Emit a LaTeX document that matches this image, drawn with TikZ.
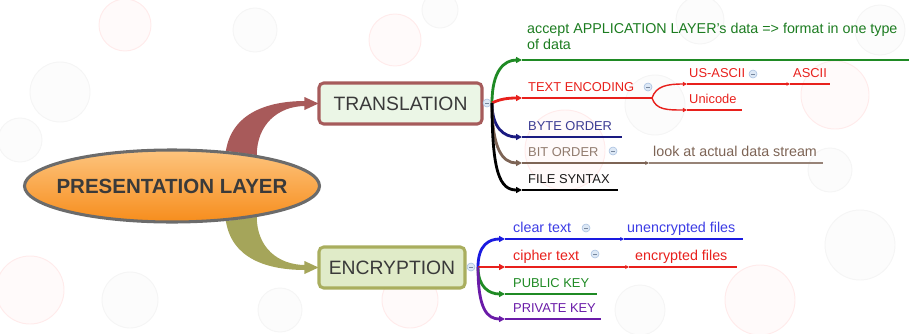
\documentclass[tikz,border=0pt]{standalone}
\usepackage{fontspec}
\setmainfont{Liberation Sans}
\usetikzlibrary{shapes.geometric, arrows.meta, calc, positioning, backgrounds}

\definecolor{eltop}{HTML}{FDC47E}
\definecolor{elbot}{HTML}{F78D1C}
\definecolor{elborder}{HTML}{6B6B6B}
\definecolor{txtdark}{HTML}{3A3A3A}
\definecolor{trborder}{HTML}{A65B5B}
\definecolor{trfill}{HTML}{EBF6E6}
\definecolor{enborder}{HTML}{A9AE5E}
\definecolor{enfill}{HTML}{E0EBC8}
\definecolor{uparc}{HTML}{A85A5A}
\definecolor{lowarc}{HTML}{A5A55A}
\definecolor{cgreen}{HTML}{1F8A24}
\definecolor{cred}{HTML}{E8201C}
\definecolor{cnavy}{HTML}{1A1A80}
\definecolor{cbrown}{HTML}{7D6455}
\definecolor{cblue}{HTML}{1A1AE0}
\definecolor{cpurple}{HTML}{6A1BA8}
\definecolor{colbd}{HTML}{A8C0E0}
\definecolor{colfl}{HTML}{DDE8F5}

\tikzset{
  branch/.style={line width=2.4pt, -{Triangle[length=5pt,width=5pt]}},
  subbranch/.style={line width=1.2pt, -{Triangle[length=3.5pt,width=3.5pt]}},
  uline/.style={line width=1pt},
  tipline/.style={uline, -{Triangle[length=3pt,width=3pt]}},
  lbl/.style={anchor=base west, inner sep=0pt, font=\fontsize{11}{13}\selectfont},
  lbllow/.style={lbl, font=\fontsize{12.2}{14}\selectfont},
  topic/.style={rectangle, rounded corners=4pt, line width=2.6pt, minimum height=1.23cm,
    font=\fontsize{16.5}{18}\selectfont, text=txtdark},
  collapse/.style={circle, draw=colbd, fill=colfl, line width=0.5pt, minimum size=0.24cm, inner sep=0pt,
    path picture={\draw[colbd!70!black, line width=0.6pt]
      ([xshift=-1.5pt]path picture bounding box.center) -- ([xshift=1.5pt]path picture bounding box.center);}},
}

\begin{document}
\begin{tikzpicture}[x=0.03cm, y=-0.03cm]
  \useasboundingbox (0,0) rectangle (909,333);

  % main topic and the two sub topics
  \node[ellipse, draw=elborder, line width=2.6pt, top color=eltop, bottom color=elbot,
    minimum width=8.85cm, minimum height=2.16cm, inner sep=0pt,
    font=\bfseries\fontsize{17.5}{20}\selectfont, text=txtdark] (layer) at (172,186)
    {\makebox[0pt]{PRESENTATION LAYER}};
  \node[topic, draw=trborder, fill=trfill, minimum width=4.89cm] (trans) at (400.5,103.5) {TRANSLATION};
  \node[topic, draw=enborder, fill=enfill, minimum width=4.38cm] (enc) at (392,267.5) {ENCRYPTION};

  % faint bubbles and the tapered arcs go underneath
  \begin{scope}[on background layer]
    \foreach \bx/\by/\br/\bc in {60/92/30/gray, 125/25/26/red, 20/140/22/gray, 255/30/22/gray,
        395/40/26/red, 440/10/18/gray, 565/150/40/red, 655/105/30/gray, 700/20/24/gray,
        835/95/34/red, 880/30/25/gray, 860/245/35/gray, 760/300/35/red, 640/310/25/gray,
        410/300/28/red, 30/290/34/red, 130/300/28/gray, 280/310/22/gray, 830/170/22/gray} {
      \draw[\bc!8, line width=0.8pt, fill=\bc!2] (\bx,\by) circle[radius=\br];
    }
    \fill[uparc] (layer.33) .. controls +(6,-38) and +(-38,0) .. ($(trans.west)+(-12,-2.5)$)
      -- ($(trans.west)+(-12,2.5)$) .. controls +(-28,0) and +(0,-30) .. (layer.20) -- cycle;
    \fill[uparc] ($(trans.west)+(-13,-6.5)$) -- ($(trans.west)+(1,0)$) -- ($(trans.west)+(-13,6.5)$) -- cycle;
    \fill[lowarc] (layer.-33) .. controls +(6,38) and +(-38,0) .. ($(enc.west)+(-12,2.5)$)
      -- ($(enc.west)+(-12,-2.5)$) .. controls +(-28,0) and +(0,30) .. (layer.-20) -- cycle;
    \fill[lowarc] ($(enc.west)+(-13,-6.5)$) -- ($(enc.west)+(1,0)$) -- ($(enc.west)+(-13,6.5)$) -- cycle;
  \end{scope}

  \node[collapse] (transc) at (487,103) {};
  \node[collapse] (encc) at (471,267) {};

  % TRANSLATION branches
  \coordinate (tfan) at (492,103);
  \coordinate (accept) at (522,60);
  \coordinate (textenc) at (522,98);
  \coordinate (byte) at (522,137);
  \coordinate (bit) at (522,163);
  \coordinate (file) at (522,190);

  \draw[branch, cgreen] (tfan) .. controls +(0,-32) and +(-18,0) .. (accept);
  \draw[branch, cred] (tfan) .. controls +(8,-4) and +(-14,0) .. (textenc);
  \draw[branch, cnavy] (tfan) .. controls +(0,25) and +(-18,0) .. (byte);
  \draw[branch, cbrown] (tfan) .. controls +(0,45) and +(-20,0) .. (bit);
  \draw[branch, black] (tfan) .. controls +(0,70) and +(-22,0) .. (file);

  \coordinate (acceptend) at (909,60);
  \coordinate (tefork) at (652,98);
  \coordinate (byteend) at (622,137);
  \coordinate (lookst) at (649,163);
  \coordinate (lookend) at (823,163);
  \coordinate (fileend) at (618,190);
  \draw[uline, cgreen] (accept) -- (acceptend);
  \draw[uline, cred] (textenc) -- (tefork);
  \draw[uline, cnavy] (byte) -- (byteend);
  \draw[tipline, cbrown] (bit) -- (lookst);
  \draw[uline, cbrown!80] (lookst) -- (lookend);
  \draw[uline, black] (file) -- (fileend);

  % TEXT ENCODING fork
  \coordinate (usascii) at (687,84);
  \coordinate (unicode) at (687,110);
  \coordinate (asciist) at (790,84);
  \coordinate (asciiend) at (830,84);
  \coordinate (unicodeend) at (742,110);
  \draw[subbranch, cred] (tefork) .. controls +(4,-12) and +(-20,0) .. (usascii);
  \draw[subbranch, cred] (tefork) .. controls +(4,12) and +(-20,0) .. (unicode);
  \draw[tipline, cred] (usascii) -- (asciist);
  \draw[uline, cred] (asciist) -- (asciiend);
  \draw[uline, cred] (unicode) -- (unicodeend);

  % ENCRYPTION branches
  \coordinate (efan) at (478,267);
  \coordinate (clear) at (505,239);
  \coordinate (cipher) at (505,267);
  \coordinate (public) at (505,294);
  \coordinate (private) at (505,319);
  \draw[branch, cblue] (efan) .. controls +(0,-22) and +(-16,0) .. (clear);
  \draw[branch, cred] (efan) -- (cipher);
  \draw[branch, cgreen] (efan) .. controls +(0,20) and +(-16,0) .. (public);
  \draw[branch, cpurple] (efan) .. controls +(0,42) and +(-18,0) .. (private);

  \coordinate (unencst) at (624,239);
  \coordinate (unencend) at (743,239);
  \coordinate (encst) at (629,267);
  \coordinate (encend) at (737,267);
  \coordinate (publicend) at (597,294);
  \coordinate (privateend) at (601,319);
  \draw[tipline, cblue] (clear) -- (unencst);
  \draw[uline, cblue] (unencst) -- (unencend);
  \draw[tipline, cred] (cipher) -- (encst);
  \draw[uline, cred] (encst) -- (encend);
  \draw[uline, cgreen] (public) -- (publicend);
  \draw[uline, cpurple] (private) -- (privateend);

  % labels
  \node[anchor=north west, inner sep=0pt, align=left, font=\fontsize{12.2}{13.2}\selectfont, text=cgreen!90!black]
    (lblaccept) at (527,23) {accept APPLICATION LAYER's data => format in one type\\of data};
  \node[lbl, text=cred] (lbltextenc) at (528,91) {TEXT ENCODING};
  \node[lbl, text=cred] (lblusascii) at (689,77) {US-ASCII};
  \node[lbl, text=cred] (lblascii) at (793,77) {ASCII};
  \node[lbl, text=cred] (lblunicode) at (689,103) {Unicode};
  \node[lbl, text=cnavy!85] (lblbyte) at (528,130) {BYTE ORDER};
  \node[lbl, text=cbrown!85] (lblbit) at (528,156) {BIT ORDER};
  \node[lbllow, text=cbrown] (lbllook) at (653,156) {look at actual data stream};
  \node[lbl, text=black!90] (lblfile) at (528,183) {FILE SYNTAX};
  \node[lbllow, text=cblue!85] (lblclear) at (513,232) {clear text};
  \node[lbllow, text=cblue!85] (lblunenc) at (627,232) {unencrypted files};
  \node[lbllow, text=cred] (lblcipher) at (513,260) {cipher text};
  \node[lbllow, text=cred] (lblenc) at (635,260) {encrypted files};
  \node[lbl, text=cgreen] (lblpublic) at (513,287) {PUBLIC KEY};
  \node[lbl, text=cpurple] (lblprivate) at (513,312) {PRIVATE KEY};

  \node[collapse] (textencc) at (648,87) {};
  \node[collapse] (usasciic) at (753,74) {};
  \node[collapse] (bitc) at (613,151) {};
  \node[collapse] (clearc) at (586,228) {};
  \node[collapse] (cipherc) at (595,254) {};
\end{tikzpicture}
\end{document}
